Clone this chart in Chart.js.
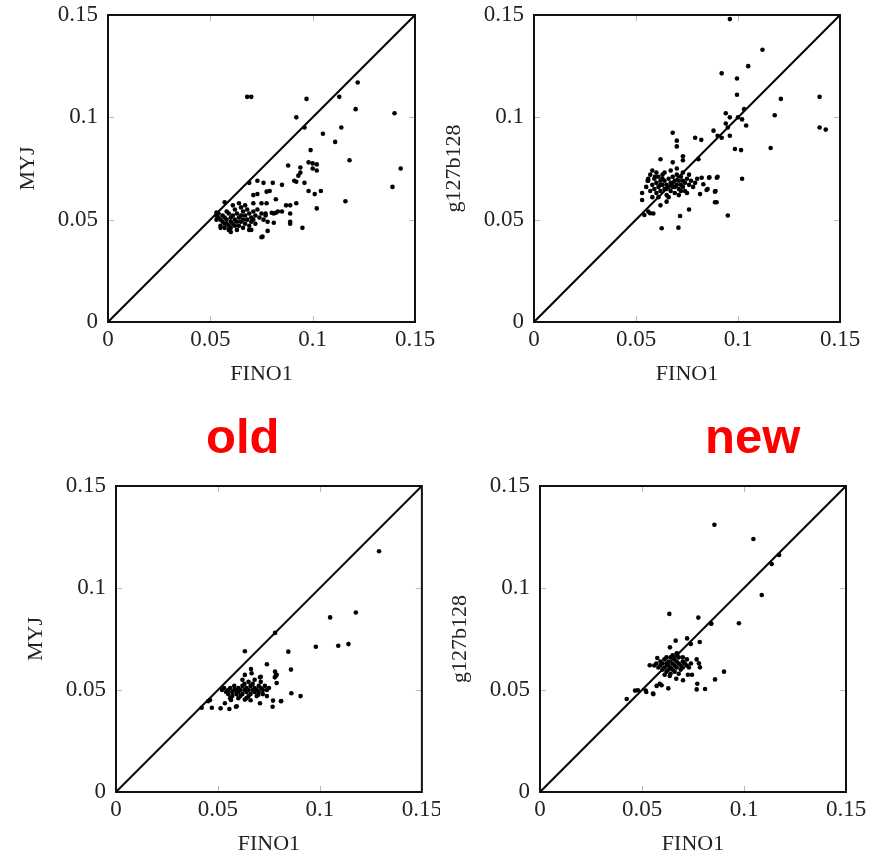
<!DOCTYPE html>
<html>
<head>
<meta charset="utf-8">
<script src="https://cdn.jsdelivr.net/npm/chart.js@4.4.1/dist/chart.umd.min.js"></script>
<style>
  body { margin: 0; background: #fff; }
  #page { position: relative; width: 874px; height: 856px; overflow: hidden; }
  #page canvas { position: absolute; }
  .tag { position: absolute; font: bold 49px "Liberation Sans", Arial, sans-serif; color: #ff0000; line-height: 49px; white-space: nowrap; }
</style>
</head>
<body>
<div id="page">
  <canvas id="oldTop"></canvas>
  <canvas id="newTop"></canvas>
  <canvas id="oldBottom"></canvas>
  <canvas id="newBottom"></canvas>
  <div class="tag" style="left:206px; top:412px;">old</div>
  <div class="tag" style="left:705px; top:412px;">new</div>
</div>
<script>
// axis ticks shared by all four panels
const tickValues = [0, 0.05, 0.1, 0.15];
const tickLabels = ['0', '0.05', '0.1', '0.15'];
const xTitle = 'FINO1';
const yTitles = ['MYJ', 'g127b128', 'MYJ', 'g127b128'];

// one-to-one reference line
const diagonal = [[0, 0], [0.15, 0.15]];

// top left: old, MYJ vs FINO1
const oldTopPoints = [
  [0.068,0.110],[0.070,0.110],[0.097,0.109],[0.122,0.117],[0.113,0.110],[0.092,0.100],[0.096,0.095],
  [0.121,0.104],[0.140,0.102],[0.114,0.095],[0.105,0.092],[0.111,0.088],[0.099,0.084],[0.118,0.079],
  [0.143,0.075],[0.139,0.066],[0.116,0.059],[0.098,0.078],[0.100,0.0775],[0.102,0.077],[0.102,0.074],
  [0.100,0.075],[0.088,0.0765],[0.094,0.0755],[0.094,0.073],[0.093,0.0715],[0.091,0.069],[0.092,0.0685],
  [0.096,0.068],[0.098,0.064],[0.101,0.0625],[0.104,0.064],[0.102,0.0555],[0.095,0.046],[0.092,0.058],
  [0.089,0.057],[0.089,0.053],[0.089,0.049],[0.089,0.048],[0.085,0.067],[0.0805,0.068],[0.082,0.060],
  [0.079,0.064],[0.076,0.068],[0.073,0.069],[0.069,0.068],[0.071,0.062],[0.073,0.0625],[0.071,0.058],
  [0.075,0.058],[0.0775,0.058],[0.077,0.053],[0.081,0.053],[0.083,0.054],[0.085,0.054],[0.081,0.0485],
  [0.078,0.0445],[0.0755,0.0417],[0.075,0.0414],[0.057,0.0585],[0.053,0.0535],[0.070,0.045],[0.0775,0.0637],
  [0.087,0.057],[0.082,0.0534],[0.080,0.0534],
  [0.053,0.052],[0.054,0.051],[0.055,0.050],[0.055,0.047],[0.056,0.052],[0.056,0.049],[0.057,0.046],
  [0.057,0.051],[0.058,0.050],[0.058,0.048],[0.059,0.053],[0.059,0.047],[0.060,0.051],[0.060,0.049],
  [0.060,0.046],[0.061,0.052],[0.061,0.048],[0.062,0.055],[0.062,0.050],[0.062,0.047],[0.063,0.053],
  [0.063,0.049],[0.064,0.051],[0.064,0.047],[0.065,0.056],[0.065,0.052],[0.065,0.049],[0.066,0.054],
  [0.066,0.050],[0.066,0.046],[0.067,0.052],[0.067,0.048],[0.068,0.055],[0.068,0.050],[0.069,0.053],
  [0.069,0.047],[0.070,0.051],[0.070,0.049],[0.071,0.054],[0.071,0.050],[0.072,0.052],[0.072,0.048],
  [0.073,0.055],[0.074,0.051],[0.075,0.053],[0.076,0.050],[0.077,0.052],[0.078,0.049],[0.058,0.054],
  [0.061,0.057],[0.064,0.058],[0.067,0.057],[0.063,0.045],[0.059,0.045],[0.055,0.046],[0.069,0.045],
  [0.053,0.050],[0.054,0.053],[0.057,0.048],[0.060,0.044]
];

// top right: new, g127b128 vs FINO1
const newTopPoints = [
  [0.096,0.148],[0.112,0.133],[0.105,0.125],[0.092,0.1215],[0.0995,0.119],[0.0995,0.111],[0.121,0.109],
  [0.140,0.110],[0.118,0.101],[0.140,0.095],[0.143,0.094],[0.094,0.102],[0.096,0.100],[0.100,0.100],
  [0.103,0.104],[0.102,0.099],[0.104,0.096],[0.094,0.097],[0.095,0.095],[0.096,0.091],[0.092,0.090],
  [0.090,0.091],[0.088,0.0935],[0.0985,0.0845],[0.1015,0.084],[0.116,0.085],[0.102,0.070],[0.095,0.052],
  [0.0895,0.0585],[0.089,0.064],[0.090,0.071],[0.086,0.0707],[0.0846,0.0645],[0.0814,0.0625],[0.082,0.089],
  [0.079,0.090],[0.0806,0.0795],[0.068,0.0925],[0.070,0.0886],[0.070,0.0858],[0.073,0.081],[0.073,0.079],
  [0.068,0.078],[0.062,0.0795],[0.076,0.055],[0.0716,0.0518],[0.0626,0.0458],[0.0708,0.0461],[0.056,0.054],
  [0.0585,0.053],[0.053,0.063],[0.053,0.0596],[0.062,0.057],[0.065,0.0588],[0.058,0.074],[0.0593,0.071],
  [0.056,0.070],[0.0557,0.069],[0.0822,0.0705],[0.0858,0.0705],[0.0896,0.0705],[0.083,0.0673],[0.0851,0.065],
  [0.0887,0.0637],[0.0887,0.0585],[0.0541,0.0523],[0.0569,0.0531],
  [0.055,0.066],[0.056,0.069],[0.057,0.064],[0.058,0.067],[0.059,0.070],[0.059,0.065],[0.060,0.068],
  [0.060,0.063],[0.061,0.071],[0.061,0.066],[0.062,0.069],[0.062,0.064],[0.063,0.067],[0.063,0.072],
  [0.064,0.065],[0.064,0.069],[0.065,0.067],[0.065,0.062],[0.066,0.070],[0.066,0.066],[0.067,0.068],
  [0.067,0.064],[0.068,0.071],[0.068,0.066],[0.069,0.069],[0.069,0.063],[0.070,0.067],[0.070,0.072],
  [0.071,0.065],[0.071,0.069],[0.072,0.067],[0.072,0.071],[0.073,0.066],[0.073,0.069],[0.074,0.068],
  [0.074,0.064],[0.075,0.070],[0.076,0.067],[0.077,0.069],[0.078,0.066],[0.079,0.068],[0.080,0.070],
  [0.064,0.073],[0.067,0.074],[0.070,0.075],[0.058,0.061],[0.061,0.061],[0.066,0.061],[0.071,0.062],
  [0.075,0.063],[0.063,0.070],[0.068,0.068],[0.065,0.065],[0.062,0.067],[0.069,0.066],[0.072,0.064],
  [0.057,0.072],[0.076,0.072],[0.060,0.073],[0.073,0.073]
];

// bottom left: old, MYJ vs FINO1
const oldBottomPoints = [
  [0.129,0.118],[0.105,0.0856],[0.1176,0.088],[0.098,0.0712],[0.109,0.0717],[0.114,0.0725],[0.0845,0.0688],
  [0.078,0.078],[0.0632,0.069],[0.0858,0.060],[0.086,0.0484],[0.0905,0.047],[0.074,0.0626],[0.078,0.059],
  [0.0784,0.057],[0.0662,0.0603],[0.0665,0.0582],[0.0632,0.0574],[0.071,0.0565],[0.081,0.0446],[0.077,0.0448],
  [0.0768,0.0418],[0.0706,0.0435],[0.074,0.047],[0.042,0.0413],[0.047,0.0413],[0.0513,0.041],[0.0556,0.0407],
  [0.0588,0.0418],[0.0534,0.0435],[0.0564,0.0451],[0.0461,0.0451],[0.0452,0.0445],[0.0788,0.0534],[0.0788,0.0575],
  [0.0779,0.0562],[0.0706,0.0562],[0.0698,0.0477],[0.0809,0.0445],[0.0632,0.0453],[0.0592,0.042],
  [0.052,0.050],[0.053,0.051],[0.054,0.049],[0.055,0.050],[0.055,0.048],[0.056,0.051],[0.057,0.049],
  [0.057,0.047],[0.058,0.050],[0.058,0.052],[0.059,0.048],[0.059,0.050],[0.060,0.049],[0.060,0.051],
  [0.061,0.047],[0.061,0.050],[0.062,0.052],[0.062,0.048],[0.063,0.050],[0.063,0.053],[0.064,0.049],
  [0.064,0.051],[0.065,0.047],[0.065,0.050],[0.066,0.052],[0.066,0.048],[0.067,0.050],[0.067,0.053],
  [0.068,0.049],[0.068,0.051],[0.069,0.050],[0.069,0.047],[0.070,0.052],[0.070,0.049],[0.071,0.051],
  [0.072,0.050],[0.072,0.048],[0.073,0.052],[0.074,0.050],[0.075,0.051],[0.062,0.055],[0.065,0.054],
  [0.068,0.055],[0.060,0.046],[0.064,0.046],[0.056,0.046],[0.071,0.054],[0.066,0.045]
];

// bottom right: new, g127b128 vs FINO1
const newBottomPoints = [
  [0.0855,0.131],[0.1046,0.124],[0.1136,0.1118],[0.1172,0.1162],[0.1087,0.0966],[0.0975,0.0827],[0.0837,0.0827],
  [0.0776,0.0855],[0.0634,0.0873],[0.0665,0.0742],[0.0721,0.0753],[0.0783,0.0735],[0.0739,0.0725],[0.0637,0.0709],
  [0.0902,0.059],[0.0858,0.0552],[0.0768,0.0503],[0.0809,0.0505],[0.0768,0.065],[0.0779,0.0631],[0.0784,0.0611],
  [0.0425,0.0456],[0.0466,0.0497],[0.0518,0.0497],[0.0556,0.048],[0.0572,0.052],[0.0596,0.0523],[0.0629,0.0508],
  [0.0575,0.0657],[0.0538,0.0621],[0.0673,0.0678],[0.0725,0.0575],[0.0745,0.0575],[0.0701,0.0548],[0.0668,0.0555],
  [0.0771,0.0531],[0.0587,0.0531],[0.0521,0.049],[0.0554,0.0482],[0.048,0.0499],[0.0611,0.0575],[0.0636,0.0569],
  [0.084,0.0825],
  [0.056,0.062],[0.057,0.063],[0.058,0.061],[0.059,0.064],[0.059,0.062],[0.060,0.060],[0.060,0.063],
  [0.061,0.065],[0.061,0.061],[0.062,0.063],[0.062,0.059],[0.063,0.062],[0.063,0.064],[0.064,0.066],
  [0.064,0.061],[0.065,0.063],[0.065,0.060],[0.066,0.065],[0.066,0.062],[0.067,0.064],[0.067,0.061],
  [0.068,0.063],[0.068,0.066],[0.069,0.062],[0.069,0.060],[0.070,0.064],[0.070,0.061],[0.071,0.063],
  [0.072,0.062],[0.072,0.065],[0.073,0.061],[0.074,0.063],[0.064,0.058],[0.066,0.059],[0.068,0.058],
  [0.065,0.067],[0.067,0.068],[0.063,0.060],[0.070,0.066],[0.062,0.066]
];

// canvas box on the page and the plot frame inside it (page pixels)
const panels = [
  { id: 'oldTop',    points: oldTopPoints,    yTitle: yTitles[0], box: [0, -20, 440, 420],   area: [108, 15, 415, 322] },
  { id: 'newTop',    points: newTopPoints,    yTitle: yTitles[1], box: [437, -20, 437, 420], area: [534, 15, 840, 322] },
  { id: 'oldBottom', points: oldBottomPoints, yTitle: yTitles[2], box: [0, 430, 440, 426],   area: [116, 486, 422, 792] },
  { id: 'newBottom', points: newBottomPoints, yTitle: yTitles[3], box: [437, 430, 437, 426], area: [540, 486, 846, 792] }
];

const serif = '"Liberation Serif", "Times New Roman", serif';
const titleSize = 22;

// black frame plus the little inward ticks at 0.05 and 0.1
const framePlugin = {
  id: 'frame',
  afterDatasetsDraw(chart) {
    const { ctx, chartArea: a, scales } = chart;
    ctx.save();
    ctx.strokeStyle = '#b8b8b8';
    ctx.lineWidth = 1;
    tickValues.slice(1, -1).forEach(v => {
      const px = Math.round(scales.x.getPixelForValue(v)) + 0.5;
      const py = Math.round(scales.y.getPixelForValue(v)) + 0.5;
      ctx.beginPath();
      ctx.moveTo(px, a.top); ctx.lineTo(px, a.top + 6);
      ctx.moveTo(px, a.bottom); ctx.lineTo(px, a.bottom - 6);
      ctx.moveTo(a.left, py); ctx.lineTo(a.left + 6, py);
      ctx.moveTo(a.right, py); ctx.lineTo(a.right - 6, py);
      ctx.stroke();
    });
    ctx.strokeStyle = '#111';
    ctx.lineWidth = 2;
    ctx.strokeRect(a.left, a.top, a.right - a.left, a.bottom - a.top);
    ctx.restore();
  }
};

function fixedTicks(scale) {
  scale.ticks = tickValues.map(v => ({ value: v }));
}

function makePanel(p) {
  const [bx, by, bw, bh] = p.box;
  const [al, at, ar, ab] = p.area;
  const canvas = document.getElementById(p.id);
  canvas.width = bw;
  canvas.height = bh;
  canvas.style.left = bx + 'px';
  canvas.style.top = by + 'px';

  const xTitleCenter = ab + 52;
  const yTitleCenter = al - 80;
  const xTitlePad = (by + bh) - xTitleCenter - titleSize / 2;
  const yTitlePad = (yTitleCenter - bx) - titleSize / 2;

  const tickFont = { family: serif, size: 23, lineHeight: 1 };
  const titleFont = { family: serif, size: titleSize, lineHeight: 1 };

  return new Chart(canvas, {
    data: {
      datasets: [
        {
          type: 'scatter',
          data: p.points.map(([x, y]) => ({ x, y })),
          backgroundColor: '#000',
          borderWidth: 0,
          pointRadius: 2.3
        },
        {
          type: 'line',
          data: diagonal.map(([x, y]) => ({ x, y })),
          borderColor: '#000',
          borderWidth: 2,
          pointRadius: 0,
          fill: false
        }
      ]
    },
    options: {
      responsive: false,
      animation: false,
      events: [],
      layout: { padding: { top: at - by, right: bx + bw - ar, left: 0, bottom: 0 } },
      plugins: { legend: { display: false }, tooltip: { enabled: false } },
      scales: {
        x: {
          type: 'linear', min: 0, max: 0.15,
          afterBuildTicks: fixedTicks,
          afterFit: s => { s.height = by + bh - ab; },
          grid: { display: false },
          border: { display: false },
          ticks: {
            padding: -2, color: '#222', font: tickFont, maxRotation: 0,
            callback: (v, i) => tickLabels[i]
          },
          title: { display: true, text: xTitle, color: '#222', font: titleFont, padding: { top: 0, bottom: xTitlePad } }
        },
        y: {
          type: 'linear', min: 0, max: 0.15,
          afterBuildTicks: fixedTicks,
          afterFit: s => { s.width = al - bx; },
          grid: { display: false },
          border: { display: false },
          ticks: {
            padding: 2, color: '#222', font: tickFont,
            callback: (v, i) => tickLabels[i]
          },
          title: { display: true, text: p.yTitle, color: '#222', font: titleFont, padding: { top: yTitlePad, bottom: 0 } }
        }
      }
    },
    plugins: [framePlugin]
  });
}

panels.forEach(makePanel);
</script>
</body>
</html>
